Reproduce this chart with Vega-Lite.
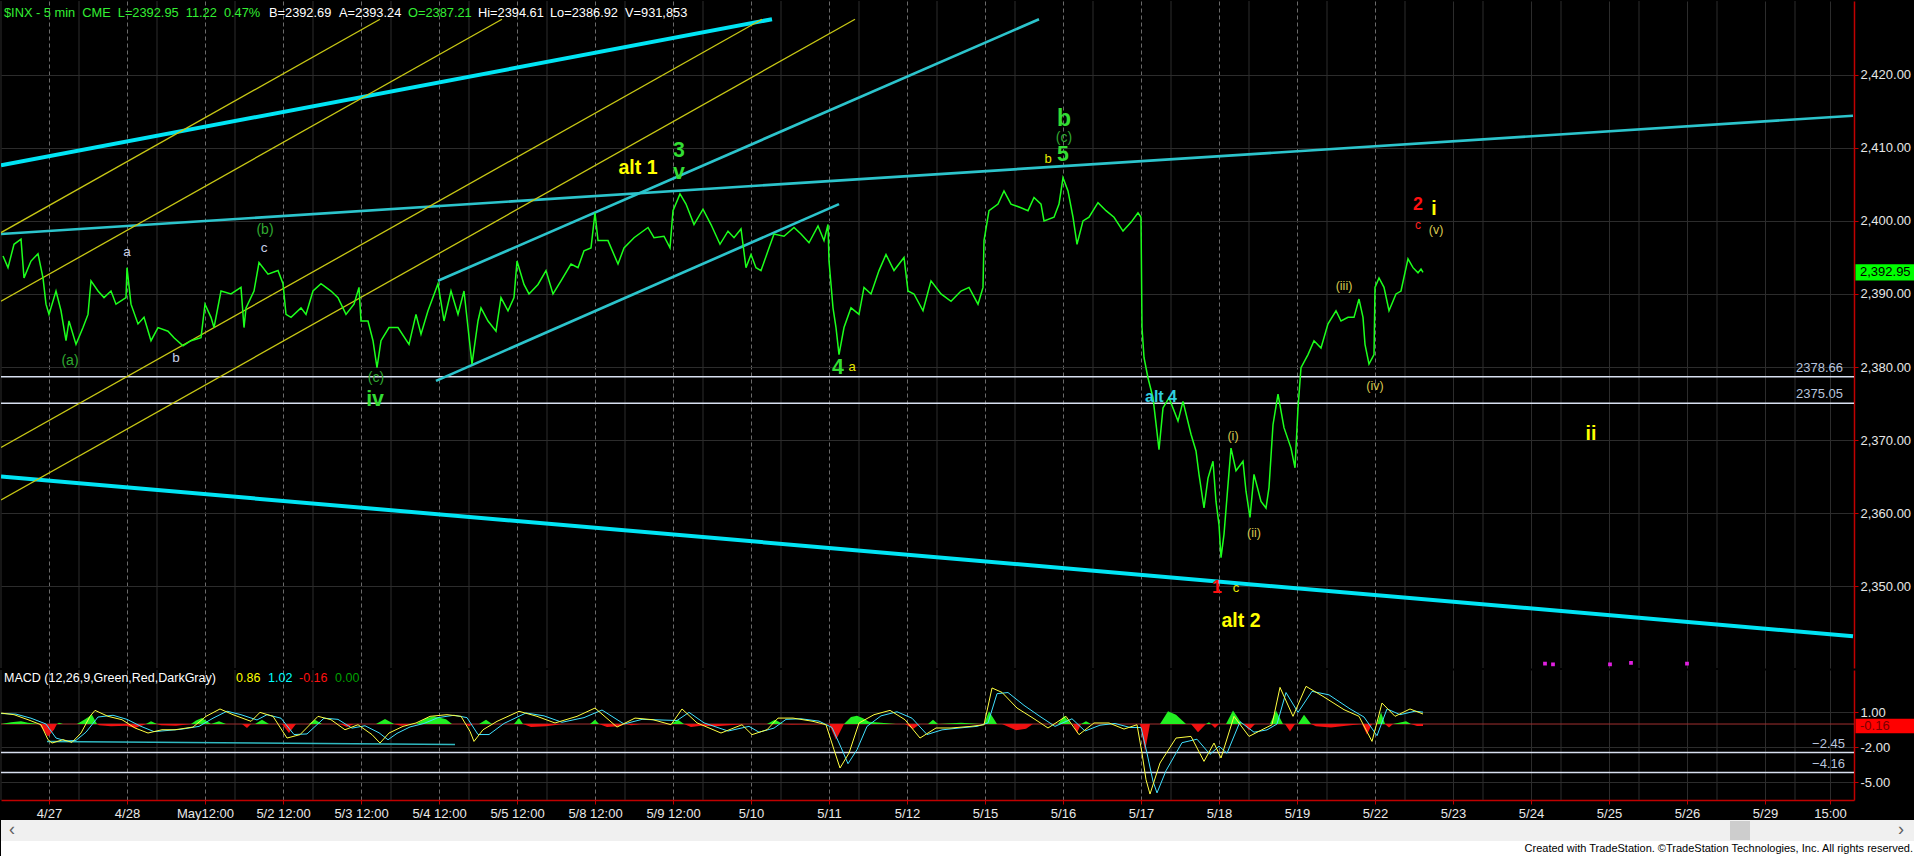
{
"$schema": "https://vega.github.io/schema/vega-lite/v6.json",
"background": "#000000",
"padding": 0,
"spacing": 0,
"config": {"view": {"stroke": null}, "font": "Liberation Sans, Arial, sans-serif", "axis": {"labelOverlap": false, "labelFlush": false}},
"datasets": {
"price": [{"bar":2,"close":2395.2},{"bar":7,"close":2393.6},{"bar":13,"close":2396.8},{"bar":20,"close":2397.5},{"bar":23,"close":2392.2},{"bar":30,"close":2394.5},{"bar":37,"close":2395.5},{"bar":42,"close":2392.2},{"bar":45,"close":2388.6},{"bar":48,"close":2387.2},{"bar":55,"close":2390.4},{"bar":60,"close":2387.7},{"bar":65,"close":2383.6},{"bar":68,"close":2386.3},{"bar":75,"close":2383.1},{"bar":82,"close":2385.4},{"bar":87,"close":2387.2},{"bar":90,"close":2391.8},{"bar":97,"close":2390.4},{"bar":103,"close":2389.5},{"bar":110,"close":2390.4},{"bar":115,"close":2388.6},{"bar":125,"close":2389.5},{"bar":126,"close":2393.6},{"bar":130,"close":2388.6},{"bar":137,"close":2385.9},{"bar":143,"close":2386.8},{"bar":150,"close":2383.6},{"bar":157,"close":2385.4},{"bar":167,"close":2384.9},{"bar":173,"close":2384.0},{"bar":182,"close":2382.9},{"bar":190,"close":2383.6},{"bar":200,"close":2384.0},{"bar":204,"close":2388.6},{"bar":210,"close":2386.8},{"bar":213,"close":2385.4},{"bar":220,"close":2390.4},{"bar":230,"close":2390.0},{"bar":240,"close":2390.9},{"bar":243,"close":2385.4},{"bar":245,"close":2388.1},{"bar":253,"close":2390.4},{"bar":258,"close":2394.3},{"bar":267,"close":2392.7},{"bar":277,"close":2393.2},{"bar":282,"close":2391.4},{"bar":285,"close":2387.2},{"bar":290,"close":2386.8},{"bar":300,"close":2388.1},{"bar":305,"close":2387.2},{"bar":312,"close":2390.4},{"bar":320,"close":2391.4},{"bar":330,"close":2390.4},{"bar":337,"close":2389.5},{"bar":345,"close":2387.2},{"bar":353,"close":2388.6},{"bar":358,"close":2390.9},{"bar":360,"close":2386.3},{"bar":367,"close":2386.3},{"bar":372,"close":2383.6},{"bar":376,"close":2379.9},{"bar":380,"close":2383.6},{"bar":388,"close":2385.4},{"bar":397,"close":2385.4},{"bar":408,"close":2383.1},{"bar":415,"close":2387.2},{"bar":420,"close":2384.5},{"bar":427,"close":2387.7},{"bar":437,"close":2391.4},{"bar":443,"close":2386.3},{"bar":450,"close":2390.4},{"bar":457,"close":2387.2},{"bar":463,"close":2390.4},{"bar":471,"close":2380.4},{"bar":477,"close":2386.3},{"bar":480,"close":2388.1},{"bar":487,"close":2386.3},{"bar":495,"close":2384.9},{"bar":500,"close":2389.5},{"bar":507,"close":2387.7},{"bar":513,"close":2389.5},{"bar":516,"close":2394.5},{"bar":523,"close":2391.3},{"bar":528,"close":2390.0},{"bar":537,"close":2391.3},{"bar":545,"close":2393.2},{"bar":552,"close":2390.0},{"bar":560,"close":2391.8},{"bar":570,"close":2394.1},{"bar":577,"close":2393.6},{"bar":583,"close":2395.9},{"bar":590,"close":2396.3},{"bar":594,"close":2401.1},{"bar":597,"close":2397.3},{"bar":607,"close":2397.3},{"bar":617,"close":2394.1},{"bar":623,"close":2396.3},{"bar":633,"close":2397.7},{"bar":647,"close":2399.1},{"bar":653,"close":2397.7},{"bar":663,"close":2397.9},{"bar":669,"close":2396.3},{"bar":672,"close":2401.4},{"bar":679,"close":2403.7},{"bar":685,"close":2402.3},{"bar":693,"close":2399.5},{"bar":702,"close":2401.6},{"bar":710,"close":2399.5},{"bar":719,"close":2396.8},{"bar":727,"close":2398.6},{"bar":733,"close":2397.7},{"bar":740,"close":2398.9},{"bar":745,"close":2393.6},{"bar":750,"close":2395.4},{"bar":755,"close":2393.6},{"bar":760,"close":2393.2},{"bar":767,"close":2395.9},{"bar":773,"close":2398.2},{"bar":783,"close":2397.9},{"bar":793,"close":2399.1},{"bar":800,"close":2398.2},{"bar":808,"close":2397.0},{"bar":817,"close":2399.3},{"bar":823,"close":2397.3},{"bar":827,"close":2399.5},{"bar":828,"close":2394.5},{"bar":832,"close":2388.1},{"bar":835,"close":2385.4},{"bar":838,"close":2381.7},{"bar":843,"close":2385.4},{"bar":850,"close":2388.1},{"bar":858,"close":2387.2},{"bar":863,"close":2390.9},{"bar":870,"close":2390.0},{"bar":878,"close":2393.2},{"bar":885,"close":2395.4},{"bar":893,"close":2393.2},{"bar":903,"close":2395.0},{"bar":907,"close":2390.4},{"bar":913,"close":2390.0},{"bar":922,"close":2387.7},{"bar":930,"close":2391.8},{"bar":940,"close":2390.0},{"bar":950,"close":2389.0},{"bar":960,"close":2390.4},{"bar":968,"close":2390.9},{"bar":977,"close":2388.6},{"bar":982,"close":2390.9},{"bar":983,"close":2397.3},{"bar":988,"close":2401.4},{"bar":997,"close":2402.3},{"bar":1003,"close":2404.1},{"bar":1010,"close":2402.3},{"bar":1020,"close":2401.8},{"bar":1027,"close":2401.4},{"bar":1033,"close":2403.2},{"bar":1040,"close":2402.3},{"bar":1043,"close":2400.0},{"bar":1053,"close":2400.5},{"bar":1058,"close":2402.3},{"bar":1062,"close":2405.9},{"bar":1067,"close":2404.1},{"bar":1072,"close":2400.5},{"bar":1076,"close":2396.8},{"bar":1082,"close":2400.0},{"bar":1088,"close":2400.5},{"bar":1097,"close":2402.5},{"bar":1105,"close":2401.4},{"bar":1113,"close":2400.5},{"bar":1122,"close":2398.6},{"bar":1130,"close":2399.8},{"bar":1137,"close":2401.1},{"bar":1140,"close":2400.5},{"bar":1141,"close":2385.4},{"bar":1143,"close":2381.3},{"bar":1147,"close":2378.5},{"bar":1152,"close":2375.8},{"bar":1158,"close":2368.7},{"bar":1162,"close":2374.4},{"bar":1168,"close":2375.8},{"bar":1177,"close":2372.6},{"bar":1182,"close":2375.3},{"bar":1190,"close":2370.8},{"bar":1195,"close":2368.5},{"bar":1198,"close":2365.3},{"bar":1203,"close":2360.7},{"bar":1207,"close":2364.8},{"bar":1212,"close":2367.1},{"bar":1215,"close":2361.6},{"bar":1218,"close":2358.4},{"bar":1220,"close":2353.9},{"bar":1223,"close":2357.1},{"bar":1227,"close":2363.9},{"bar":1230,"close":2368.9},{"bar":1235,"close":2365.8},{"bar":1242,"close":2367.1},{"bar":1245,"close":2363.0},{"bar":1249,"close":2359.4},{"bar":1253,"close":2365.3},{"bar":1260,"close":2361.6},{"bar":1265,"close":2360.7},{"bar":1268,"close":2363.5},{"bar":1272,"close":2372.1},{"bar":1277,"close":2376.3},{"bar":1283,"close":2371.7},{"bar":1290,"close":2368.9},{"bar":1294,"close":2366.2},{"bar":1297,"close":2374.4},{"bar":1300,"close":2379.9},{"bar":1307,"close":2381.7},{"bar":1313,"close":2383.6},{"bar":1320,"close":2382.6},{"bar":1327,"close":2385.9},{"bar":1335,"close":2387.7},{"bar":1340,"close":2386.3},{"bar":1347,"close":2386.8},{"bar":1353,"close":2386.8},{"bar":1358,"close":2389.3},{"bar":1362,"close":2386.8},{"bar":1364,"close":2383.1},{"bar":1368,"close":2380.4},{"bar":1373,"close":2381.7},{"bar":1374,"close":2390.9},{"bar":1378,"close":2392.2},{"bar":1383,"close":2390.9},{"bar":1388,"close":2387.7},{"bar":1395,"close":2390.0},{"bar":1400,"close":2390.4},{"bar":1407,"close":2394.8},{"bar":1412,"close":2393.6},{"bar":1417,"close":2392.9},{"bar":1420,"close":2393.4},{"bar":1422,"close":2392.95}],
"trend": [{"id":"T1","kind":"thick","bar":0,"price":2407.6},{"id":"T1","kind":"thick","bar":771,"price":2427.6},{"id":"T2","kind":"thick","bar":0,"price":2365.0},{"id":"T2","kind":"thick","bar":1852,"price":2343.15},{"id":"C1","kind":"thin","bar":0,"price":2398.2},{"id":"C1","kind":"thin","bar":1852,"price":2414.4},{"id":"C2","kind":"thin","bar":437,"price":2391.8},{"id":"C2","kind":"thin","bar":1038,"price":2427.6},{"id":"C3","kind":"thin","bar":435,"price":2378.1},{"id":"C3","kind":"thin","bar":838,"price":2402.3},{"id":"Y1","kind":"fib","bar":0,"price":2398.4},{"id":"Y1","kind":"fib","bar":379,"price":2427.6},{"id":"Y2","kind":"fib","bar":0,"price":2389.0},{"id":"Y2","kind":"fib","bar":501,"price":2427.6},{"id":"Y3","kind":"fib","bar":0,"price":2369.0},{"id":"Y3","kind":"fib","bar":761,"price":2427.6},{"id":"Y4","kind":"fib","bar":0,"price":2361.8},{"id":"Y4","kind":"fib","bar":854,"price":2427.6}],
"levels": [{"level":2378.66},{"level":2375.05}],
"minorgrid": [{"bar":0},{"bar":78},{"bar":156},{"bar":234},{"bar":312},{"bar":390},{"bar":468},{"bar":546},{"bar":624},{"bar":702},{"bar":780},{"bar":858},{"bar":936},{"bar":1014},{"bar":1092},{"bar":1170},{"bar":1248},{"bar":1326},{"bar":1404},{"bar":1482},{"bar":1560},{"bar":1638},{"bar":1716},{"bar":1794}],
"labels": [{"bar":1063,"price":2414.0,"text":"b","grp":"Gb"},{"bar":1062,"price":2409.0,"text":"5","grp":"Gm"},{"bar":678,"price":2409.5,"text":"3","grp":"Gm"},{"bar":678,"price":2406.6,"text":"v","grp":"Gm"},{"bar":837,"price":2379.8,"text":"4","grp":"Gm"},{"bar":374,"price":2375.5,"text":"iv","grp":"Gm"},{"bar":637,"price":2407.3,"text":"alt 1","grp":"Yb"},{"bar":1240,"price":2345.2,"text":"alt 2","grp":"Yb"},{"bar":1433,"price":2401.6,"text":"i","grp":"Yb"},{"bar":1590,"price":2370.8,"text":"ii","grp":"Yb"},{"bar":1216,"price":2349.7,"text":"1","grp":"Rb"},{"bar":1417,"price":2402.2,"text":"2","grp":"Rb"},{"bar":1160,"price":2375.9,"text":"alt 4","grp":"Cb"},{"bar":69,"price":2380.8,"text":"(a)","grp":"Gp"},{"bar":264,"price":2398.7,"text":"(b)","grp":"Gp"},{"bar":375,"price":2378.5,"text":"(c)","grp":"Gp"},{"bar":1063,"price":2411.4,"text":"(c)","grp":"Gp"},{"bar":126,"price":2395.7,"text":"a","grp":"W"},{"bar":175,"price":2381.3,"text":"b","grp":"W"},{"bar":263,"price":2396.3,"text":"c","grp":"W"},{"bar":851,"price":2380.0,"text":"a","grp":"Ys"},{"bar":1047,"price":2408.5,"text":"b","grp":"Ys"},{"bar":1235,"price":2349.7,"text":"c","grp":"Ys"},{"bar":1232,"price":2370.6,"text":"(i)","grp":"Yp"},{"bar":1253,"price":2357.3,"text":"(ii)","grp":"Yp"},{"bar":1343,"price":2391.1,"text":"(iii)","grp":"Yp"},{"bar":1374,"price":2377.4,"text":"(iv)","grp":"Yp"},{"bar":1435,"price":2398.8,"text":"(v)","grp":"Yp"},{"bar":1417,"price":2399.5,"text":"c","grp":"Rs"}],
"dots": [{"bar":1544,"price":2339.4},{"bar":1552,"price":2339.3},{"bar":1609,"price":2339.3},{"bar":1630,"price":2339.5},{"bar":1686,"price":2339.4}],
"macd": [{"bar":0,"macd":0.94},{"bar":13,"macd":0.8},{"bar":27,"macd":0.37},{"bar":40,"macd":-0.06},{"bar":47,"macd":-1.34},{"bar":51,"macd":-1.63},{"bar":62,"macd":-1.34},{"bar":71,"macd":-1.57},{"bar":80,"macd":-0.77},{"bar":89,"macd":0.66},{"bar":94,"macd":1.17},{"bar":107,"macd":0.66},{"bar":121,"macd":0.37},{"bar":134,"macd":-0.34},{"bar":147,"macd":-0.77},{"bar":161,"macd":-0.49},{"bar":174,"macd":-0.49},{"bar":192,"macd":-0.26},{"bar":205,"macd":0.66},{"bar":219,"macd":1.29},{"bar":232,"macd":0.8},{"bar":250,"macd":0.23},{"bar":259,"macd":1.0},{"bar":272,"macd":0.66},{"bar":286,"macd":-1.2},{"bar":299,"macd":-0.91},{"bar":317,"macd":0.66},{"bar":330,"macd":0.37},{"bar":344,"macd":-0.49},{"bar":357,"macd":-0.06},{"bar":371,"macd":-0.91},{"bar":379,"macd":-1.63},{"bar":388,"macd":-0.77},{"bar":402,"macd":-0.2},{"bar":415,"macd":0.09},{"bar":429,"macd":0.66},{"bar":446,"macd":0.8},{"bar":460,"macd":0.66},{"bar":469,"macd":-0.63},{"bar":473,"macd":-1.49},{"bar":482,"macd":-0.49},{"bar":496,"macd":0.23},{"bar":518,"macd":1.09},{"bar":536,"macd":0.66},{"bar":554,"macd":0.09},{"bar":576,"macd":0.66},{"bar":594,"macd":1.37},{"bar":616,"macd":-0.26},{"bar":634,"macd":0.51},{"bar":652,"macd":0.37},{"bar":670,"macd":-0.06},{"bar":681,"macd":1.29},{"bar":696,"macd":0.1},{"bar":720,"macd":-0.77},{"bar":741,"macd":-0.06},{"bar":751,"macd":-0.91},{"bar":766,"macd":-0.49},{"bar":777,"macd":0.51},{"bar":792,"macd":0.51},{"bar":812,"macd":0.23},{"bar":825,"macd":-0.06},{"bar":833,"macd":-2.2},{"bar":839,"macd":-3.77},{"bar":848,"macd":-2.49},{"bar":858,"macd":0.09},{"bar":873,"macd":0.8},{"bar":889,"macd":1.17},{"bar":904,"macd":0.37},{"bar":919,"macd":-1.2},{"bar":935,"macd":-0.34},{"bar":950,"macd":-0.34},{"bar":970,"macd":-0.2},{"bar":983,"macd":-0.06},{"bar":991,"macd":3.09},{"bar":1001,"macd":2.71},{"bar":1016,"macd":1.37},{"bar":1032,"macd":0.51},{"bar":1047,"macd":-0.34},{"bar":1065,"macd":0.66},{"bar":1078,"macd":-0.91},{"bar":1093,"macd":0.09},{"bar":1108,"macd":0.09},{"bar":1123,"macd":-0.43},{"bar":1136,"macd":-0.06},{"bar":1141,"macd":-2.49},{"bar":1145,"macd":-4.77},{"bar":1149,"macd":-6.0},{"bar":1159,"macd":-3.34},{"bar":1175,"macd":-1.2},{"bar":1190,"macd":-1.06},{"bar":1203,"macd":-3.2},{"bar":1213,"macd":-1.63},{"bar":1220,"macd":-2.91},{"bar":1233,"macd":0.66},{"bar":1248,"macd":-1.06},{"bar":1261,"macd":-0.49},{"bar":1271,"macd":-0.06},{"bar":1279,"macd":3.14},{"bar":1292,"macd":0.66},{"bar":1305,"macd":3.23},{"bar":1322,"macd":2.37},{"bar":1343,"macd":1.23},{"bar":1358,"macd":0.66},{"bar":1371,"macd":-1.49},{"bar":1381,"macd":1.8},{"bar":1394,"macd":0.66},{"bar":1409,"macd":1.29},{"bar":1422,"macd":0.86}],
"signal": [{"bar":0,"signal":0.9},{"bar":15,"signal":0.85},{"bar":30,"signal":0.5},{"bar":45,"signal":0.0},{"bar":55,"signal":-1.2},{"bar":65,"signal":-1.45},{"bar":75,"signal":-1.4},{"bar":85,"signal":-0.7},{"bar":97,"signal":0.6},{"bar":112,"signal":0.75},{"bar":126,"signal":0.4},{"bar":140,"signal":-0.2},{"bar":153,"signal":-0.65},{"bar":167,"signal":-0.55},{"bar":180,"signal":-0.45},{"bar":198,"signal":-0.2},{"bar":212,"signal":0.5},{"bar":226,"signal":1.1},{"bar":240,"signal":0.8},{"bar":256,"signal":0.35},{"bar":266,"signal":0.8},{"bar":280,"signal":0.5},{"bar":293,"signal":-0.9},{"bar":306,"signal":-0.85},{"bar":323,"signal":0.5},{"bar":337,"signal":0.4},{"bar":351,"signal":-0.35},{"bar":364,"signal":-0.15},{"bar":378,"signal":-0.75},{"bar":387,"signal":-1.35},{"bar":396,"signal":-0.8},{"bar":409,"signal":-0.25},{"bar":423,"signal":0.05},{"bar":437,"signal":0.55},{"bar":453,"signal":0.75},{"bar":466,"signal":0.55},{"bar":477,"signal":-0.9},{"bar":488,"signal":-0.9},{"bar":503,"signal":0.05},{"bar":525,"signal":0.95},{"bar":543,"signal":0.7},{"bar":561,"signal":0.15},{"bar":583,"signal":0.55},{"bar":601,"signal":1.2},{"bar":623,"signal":0.0},{"bar":641,"signal":0.4},{"bar":659,"signal":0.35},{"bar":676,"signal":0.3},{"bar":688,"signal":1.0},{"bar":703,"signal":0.1},{"bar":727,"signal":-0.6},{"bar":748,"signal":-0.2},{"bar":758,"signal":-0.7},{"bar":773,"signal":-0.35},{"bar":785,"signal":0.4},{"bar":800,"signal":0.45},{"bar":818,"signal":0.25},{"bar":831,"signal":-0.3},{"bar":840,"signal":-2.0},{"bar":847,"signal":-3.4},{"bar":856,"signal":-2.2},{"bar":866,"signal":-0.2},{"bar":880,"signal":0.7},{"bar":896,"signal":1.05},{"bar":911,"signal":0.5},{"bar":926,"signal":-0.9},{"bar":941,"signal":-0.5},{"bar":957,"signal":-0.35},{"bar":976,"signal":-0.2},{"bar":987,"signal":0.1},{"bar":996,"signal":2.6},{"bar":1007,"signal":2.7},{"bar":1023,"signal":1.6},{"bar":1039,"signal":0.65},{"bar":1054,"signal":-0.2},{"bar":1071,"signal":0.45},{"bar":1084,"signal":-0.6},{"bar":1099,"signal":-0.1},{"bar":1114,"signal":0.05},{"bar":1129,"signal":-0.3},{"bar":1140,"signal":-0.3},{"bar":1146,"signal":-2.5},{"bar":1152,"signal":-4.9},{"bar":1156,"signal":-5.9},{"bar":1165,"signal":-4.0},{"bar":1181,"signal":-1.6},{"bar":1196,"signal":-1.3},{"bar":1209,"signal":-2.6},{"bar":1218,"signal":-1.9},{"bar":1226,"signal":-2.5},{"bar":1239,"signal":0.2},{"bar":1253,"signal":-0.7},{"bar":1266,"signal":-0.5},{"bar":1276,"signal":0.0},{"bar":1285,"signal":2.7},{"bar":1297,"signal":1.0},{"bar":1311,"signal":2.8},{"bar":1328,"signal":2.5},{"bar":1349,"signal":1.3},{"bar":1363,"signal":0.6},{"bar":1376,"signal":-1.0},{"bar":1386,"signal":1.3},{"bar":1399,"signal":0.8},{"bar":1414,"signal":1.1},{"bar":1422,"signal":1.02}],
"hist": [{"bar":0,"hist":0},{"bar":10,"hist":0.15},{"bar":20,"hist":0.23},{"bar":27,"hist":0.1},{"bar":38,"hist":0},{"bar":42,"hist":-0.5},{"bar":47,"hist":-1.06},{"bar":53,"hist":-0.5},{"bar":56,"hist":0},{"bar":58,"hist":0.1},{"bar":62,"hist":0},{"bar":76,"hist":0},{"bar":84,"hist":0.4},{"bar":91,"hist":0.8},{"bar":96,"hist":0},{"bar":98,"hist":-0.1},{"bar":110,"hist":-0.2},{"bar":125,"hist":-0.15},{"bar":134,"hist":-0.34},{"bar":145,"hist":0},{"bar":150,"hist":0.23},{"bar":156,"hist":0},{"bar":160,"hist":-0.1},{"bar":175,"hist":-0.15},{"bar":190,"hist":0},{"bar":195,"hist":0.3},{"bar":201,"hist":0.51},{"bar":210,"hist":0},{"bar":218,"hist":0.23},{"bar":225,"hist":0},{"bar":241,"hist":0},{"bar":246,"hist":-0.34},{"bar":250,"hist":0},{"bar":254,"hist":0},{"bar":261,"hist":0.37},{"bar":268,"hist":0},{"bar":281,"hist":0},{"bar":288,"hist":-0.77},{"bar":295,"hist":0},{"bar":308,"hist":0},{"bar":314,"hist":0.37},{"bar":321,"hist":0},{"bar":339,"hist":0},{"bar":346,"hist":-0.26},{"bar":353,"hist":0},{"bar":375,"hist":0},{"bar":384,"hist":0.43},{"bar":393,"hist":0},{"bar":400,"hist":-0.15},{"bar":410,"hist":0},{"bar":415,"hist":0},{"bar":425,"hist":0.5},{"bar":433,"hist":0.66},{"bar":445,"hist":0.4},{"bar":451,"hist":0},{"bar":464,"hist":0},{"bar":468,"hist":-0.2},{"bar":472,"hist":0},{"bar":478,"hist":0},{"bar":485,"hist":0.37},{"bar":491,"hist":0},{"bar":513,"hist":0},{"bar":518,"hist":0.51},{"bar":522,"hist":0},{"bar":530,"hist":-0.26},{"bar":545,"hist":-0.2},{"bar":562,"hist":0},{"bar":589,"hist":0},{"bar":594,"hist":0.37},{"bar":598,"hist":0},{"bar":606,"hist":-0.26},{"bar":618,"hist":-0.2},{"bar":625,"hist":0},{"bar":630,"hist":-0.1},{"bar":640,"hist":0},{"bar":670,"hist":0},{"bar":677,"hist":0.37},{"bar":683,"hist":0},{"bar":690,"hist":-0.26},{"bar":700,"hist":-0.15},{"bar":715,"hist":-0.2},{"bar":745,"hist":0},{"bar":766,"hist":0},{"bar":774,"hist":0.37},{"bar":782,"hist":0},{"bar":790,"hist":-0.05},{"bar":828,"hist":0},{"bar":835,"hist":-1.34},{"bar":843,"hist":0},{"bar":850,"hist":0.6},{"bar":856,"hist":0.71},{"bar":862,"hist":0.5},{"bar":868,"hist":0.2},{"bar":880,"hist":0.1},{"bar":895,"hist":0},{"bar":904,"hist":0},{"bar":912,"hist":-0.43},{"bar":919,"hist":0},{"bar":927,"hist":0},{"bar":932,"hist":0.37},{"bar":937,"hist":0},{"bar":960,"hist":0.1},{"bar":980,"hist":0},{"bar":983,"hist":0},{"bar":988,"hist":1.09},{"bar":996,"hist":0},{"bar":1001,"hist":0},{"bar":1015,"hist":-0.54},{"bar":1025,"hist":-0.4},{"bar":1032,"hist":0},{"bar":1057,"hist":0},{"bar":1063,"hist":0.71},{"bar":1070,"hist":0},{"bar":1072,"hist":0},{"bar":1076,"hist":-0.77},{"bar":1080,"hist":0},{"bar":1085,"hist":0.23},{"bar":1090,"hist":0},{"bar":1139,"hist":0},{"bar":1144,"hist":-2.34},{"bar":1149,"hist":0},{"bar":1159,"hist":0},{"bar":1167,"hist":1.09},{"bar":1175,"hist":0.8},{"bar":1185,"hist":0},{"bar":1190,"hist":0},{"bar":1197,"hist":-0.71},{"bar":1205,"hist":0},{"bar":1208,"hist":0.15},{"bar":1210,"hist":0},{"bar":1214,"hist":-0.34},{"bar":1218,"hist":0},{"bar":1225,"hist":0},{"bar":1232,"hist":1.17},{"bar":1241,"hist":0},{"bar":1243,"hist":0},{"bar":1248,"hist":-0.54},{"bar":1254,"hist":0},{"bar":1269,"hist":0},{"bar":1275,"hist":1.17},{"bar":1282,"hist":0},{"bar":1284,"hist":0},{"bar":1289,"hist":-0.63},{"bar":1294,"hist":0},{"bar":1297,"hist":0},{"bar":1303,"hist":0.8},{"bar":1310,"hist":0},{"bar":1315,"hist":-0.2},{"bar":1330,"hist":-0.3},{"bar":1345,"hist":-0.15},{"bar":1361,"hist":0},{"bar":1366,"hist":-0.91},{"bar":1371,"hist":0},{"bar":1376,"hist":0},{"bar":1380,"hist":1.0},{"bar":1384,"hist":0},{"bar":1388,"hist":-0.3},{"bar":1392,"hist":0},{"bar":1405,"hist":0.23},{"bar":1410,"hist":0},{"bar":1416,"hist":-0.16},{"bar":1422,"hist":-0.16}],
"divline": [{"bar":46,"v":-1.5},{"bar":454,"v":-1.75}],
"macdlevels": [{"level":-2.45},{"level":-4.16}],
"header": [{"text":"$INX - 5 min\u00a0\u00a0CME\u00a0\u00a0L=2392.95\u00a0\u00a011.22\u00a0\u00a00.47%","pos":3,"tone":"g"},{"text":"B=2392.69","pos":268,"tone":"w"},{"text":"A=2393.24","pos":338,"tone":"w"},{"text":"O=2387.21","pos":407,"tone":"g"},{"text":"Hi=2394.61","pos":477,"tone":"w"},{"text":"Lo=2386.92","pos":549,"tone":"w"},{"text":"V=931,853","pos":624,"tone":"w"}],
"one": [{}]
},
"vconcat": [
{
"width": 1853, "height": 667,
"resolve": {"scale": {"color": "independent", "size": "independent", "strokeWidth": "independent"}},
"layer": [
{"data": {"name": "minorgrid"}, "mark": {"type": "rule", "color": "#2c2c2c", "strokeWidth": 1},
 "encoding": {"x": {"field": "bar", "type": "quantitative", "scale": {"domain": [0, 1853], "nice": false, "zero": false},
   "axis": {"values": [48,126,204,282,360,438,516,594,672,750,828,906,984,1062,1140,1218,1296,1374,1452,1530,1608,1686,1764,1829], "labels": false, "ticks": false, "domain": false, "title": null, "grid": true,
     "gridColor": {"condition": {"test": "datum.value<=1374", "value": "#6a6a6a"}, "value": "#2c2c2c"},
     "gridDash": {"condition": {"test": "datum.value<=1374", "value": [4,3]}, "value": []}}}}},
{"data": {"name": "levels"}, "mark": {"type": "rule", "color": "#d8e0f0", "strokeWidth": 1.5},
 "encoding": {"y": {"field": "level", "type": "quantitative", "scale": {"domain": [2338.8, 2430.1], "nice": false, "zero": false},
   "axis": {"orient": "right", "values": [2350,2360,2370,2380,2390,2400,2410,2420], "format": ",.2f", "labelColor": "#e6e6e6", "labelFontSize": 13, "labelPadding": 2, "tickColor": "#c00000", "tickSize": 4, "domainColor": "#c00000", "domainWidth": 1.5, "gridColor": "#2c2c2c", "title": null}}}},
{"data": {"name": "levels"}, "mark": {"type": "text", "color": "#b8c4dc", "fontSize": 13, "align": "right", "dy": -9},
 "encoding": {"x": {"datum": 1842, "type": "quantitative"}, "y": {"field": "level", "type": "quantitative"}, "text": {"field": "level", "type": "quantitative", "format": ".2f"}}},
{"data": {"name": "trend"}, "mark": {"type": "line", "clip": true},
 "encoding": {"x": {"field": "bar", "type": "quantitative"},
   "y": {"field": "price", "type": "quantitative"},
   "detail": {"field": "id"},
   "color": {"field": "kind", "type": "nominal", "scale": {"domain": ["thick","thin","fib"], "range": ["#00e4f4","#2cc4cc","#c8c814"]}, "legend": null},
   "strokeWidth": {"field": "kind", "type": "nominal", "scale": {"domain": ["thick","thin","fib"], "range": [4,1.3,1]}, "legend": null}}},
{"data": {"name": "price"}, "mark": {"type": "line", "color": "#1cff1c", "strokeWidth": 1.5},
 "encoding": {"x": {"field": "bar", "type": "quantitative"}, "y": {"field": "close", "type": "quantitative"}}},
{"data": {"name": "dots"}, "mark": {"type": "square", "color": "#e020e0", "filled": true, "size": 14, "opacity": 1},
 "encoding": {"x": {"field": "bar", "type": "quantitative"}, "y": {"field": "price", "type": "quantitative"}}},
{"data": {"name": "labels"}, "transform": [{"filter": {"field": "grp", "oneOf": ["Gb","Gm","Yb","Rb","Cb"]}}],
 "mark": {"type": "text", "fontWeight": "bold", "baseline": "middle", "align": "center"},
 "encoding": {"x": {"field": "bar", "type": "quantitative"}, "y": {"field": "price", "type": "quantitative"}, "text": {"field": "text"},
   "color": {"field": "grp", "type": "nominal", "scale": {"domain": ["Gb","Gm","Yb","Rb","Cb"], "range": ["#33dd33","#33dd33","#ffff00","#ff1010","#30d0e0"]}, "legend": null},
   "size": {"field": "grp", "type": "nominal", "scale": {"domain": ["Gb","Gm","Yb","Rb","Cb"], "range": [23,16,20,21,16]}, "legend": null}}},
{"data": {"name": "labels"}, "transform": [{"filter": {"field": "grp", "oneOf": ["Gp","W","Ys","Yp","Rs"]}}],
 "mark": {"type": "text", "baseline": "middle", "align": "center"},
 "encoding": {"x": {"field": "bar", "type": "quantitative"}, "y": {"field": "price", "type": "quantitative"}, "text": {"field": "text"},
   "color": {"field": "grp", "type": "nominal", "scale": {"domain": ["Gp","W","Ys","Yp","Rs"], "range": ["#30a830","#c8d0e8","#e8e800","#d8c850","#ff2020"]}, "legend": null},
   "size": {"field": "grp", "type": "nominal", "scale": {"domain": ["Gp","W","Ys","Yp","Rs"], "range": [14,12,12,13,12]}, "legend": null}}},
{"data": {"name": "one"}, "mark": {"type": "rect", "color": "#00ff00"},
 "encoding": {"x": {"datum": 1854.5, "type": "quantitative"}, "x2": {"datum": 1914}, "y": {"datum": 2391.85, "type": "quantitative"}, "y2": {"datum": 2394.05}}},
{"data": {"name": "one"}, "mark": {"type": "text", "color": "#000000", "fontSize": 13, "align": "left", "baseline": "middle"},
 "encoding": {"x": {"datum": 1859, "type": "quantitative"}, "y": {"datum": 2392.95, "type": "quantitative"}, "text": {"value": "2,392.95"}}},
{"data": {"name": "header"}, "mark": {"type": "text", "fontSize": 12.8, "align": "left", "baseline": "middle"},
 "encoding": {"x": {"field": "pos", "type": "quantitative"}, "y": {"datum": 2428.5, "type": "quantitative"}, "text": {"field": "text"},
   "color": {"field": "tone", "type": "nominal", "scale": {"domain": ["g","w"], "range": ["#33ee33","#ffffff"]}, "legend": null}}}
]
},
{
"width": 1853, "height": 130,
"layer": [
{"data": {"name": "minorgrid"}, "mark": {"type": "rule", "color": "#2c2c2c", "strokeWidth": 1},
 "encoding": {"x": {"field": "bar", "type": "quantitative", "scale": {"domain": [0, 1853], "nice": false, "zero": false},
   "axis": {"values": [48,126,204,282,360,438,516,594,672,750,828,906,984,1062,1140,1218,1296,1374,1452,1530,1608,1686,1764,1829],
     "labelExpr": "datum.value==1829 ? '15:00' : ['4/27','4/28','May12:00','5/2 12:00','5/3 12:00','5/4 12:00','5/5 12:00','5/8 12:00','5/9 12:00','5/10','5/11','5/12','5/15','5/16','5/17','5/18','5/19','5/22','5/23','5/24','5/25','5/26','5/29'][round((datum.value-48)/78)]",
     "labelColor": "#e8e8e8", "labelFontSize": 13, "labelPadding": 3, "tickColor": "#c00000", "tickSize": 4, "domainColor": "#c00000", "domainWidth": 1.5, "title": null, "grid": true,
     "gridColor": {"condition": {"test": "datum.value<=1374", "value": "#6a6a6a"}, "value": "#2c2c2c"},
     "gridDash": {"condition": {"test": "datum.value<=1374", "value": [4,3]}, "value": []}}}}},
{"data": {"name": "macdlevels"}, "mark": {"type": "rule", "color": "#d8e0f0", "strokeWidth": 1.5},
 "encoding": {"y": {"field": "level", "type": "quantitative", "scale": {"domain": [-6.51, 4.63], "nice": false, "zero": false},
   "axis": {"orient": "right", "values": [1,-2,-5], "labelExpr": "datum.value==1 ? '1.00' : (datum.value==-2 ? '-2.00' : '-5.00')", "labelColor": "#e6e6e6", "labelFontSize": 13, "labelPadding": 2, "tickColor": "#c00000", "tickSize": 4, "domainColor": "#c00000", "domainWidth": 1.5, "title": null, "grid": true, "gridColor": "#2c2c2c"}}}},
{"data": {"name": "macdlevels"}, "mark": {"type": "text", "color": "#b8c4dc", "fontSize": 13, "align": "right", "dy": -9},
 "encoding": {"x": {"datum": 1844, "type": "quantitative"}, "y": {"field": "level", "type": "quantitative"}, "text": {"field": "level", "type": "quantitative", "format": ".2f"}}},
{"data": {"name": "one"}, "mark": {"type": "rule", "color": "#a03030", "strokeWidth": 1},
 "encoding": {"y": {"datum": 0, "type": "quantitative"}}},
{"data": {"name": "hist"}, "transform": [{"calculate": "max(datum.hist, 0)", "as": "pos"}],
 "mark": {"type": "area", "color": "#22ee22", "clip": true},
 "encoding": {"x": {"field": "bar", "type": "quantitative"}, "y": {"field": "pos", "type": "quantitative"}, "y2": {"datum": 0}}},
{"data": {"name": "hist"}, "transform": [{"calculate": "min(datum.hist, 0)", "as": "neg"}],
 "mark": {"type": "area", "color": "#ee1111", "clip": true},
 "encoding": {"x": {"field": "bar", "type": "quantitative"}, "y": {"field": "neg", "type": "quantitative"}, "y2": {"datum": 0}}},
{"data": {"name": "divline"}, "mark": {"type": "line", "color": "#30b8c0", "strokeWidth": 1.5},
 "encoding": {"x": {"field": "bar", "type": "quantitative"}, "y": {"field": "v", "type": "quantitative"}}},
{"data": {"name": "signal"}, "mark": {"type": "line", "color": "#40e0ff", "strokeWidth": 1, "clip": true},
 "encoding": {"x": {"field": "bar", "type": "quantitative"}, "y": {"field": "signal", "type": "quantitative"}}},
{"data": {"name": "macd"}, "mark": {"type": "line", "color": "#ffff40", "strokeWidth": 1, "clip": true},
 "encoding": {"x": {"field": "bar", "type": "quantitative"}, "y": {"field": "macd", "type": "quantitative"}}},
{"data": {"name": "one"}, "mark": {"type": "rect", "color": "#ff0000"},
 "encoding": {"x": {"datum": 1854.5, "type": "quantitative"}, "x2": {"datum": 1914}, "y": {"datum": -0.8, "type": "quantitative"}, "y2": {"datum": 0.45}}},
{"data": {"name": "one"}, "mark": {"type": "text", "color": "#7a0000", "fontSize": 13, "align": "left", "baseline": "middle"},
 "encoding": {"x": {"datum": 1859, "type": "quantitative"}, "y": {"datum": -0.18, "type": "quantitative"}, "text": {"value": "-0.16"}}},
{"data": {"name": "one"}, "mark": {"type": "text", "color": "#ffffff", "fontSize": 12.5, "align": "left", "baseline": "middle"},
 "encoding": {"x": {"datum": 3, "type": "quantitative"}, "y": {"datum": 3.94, "type": "quantitative"}, "text": {"value": "MACD (12,26,9,Green,Red,DarkGray)"}}},
{"data": {"name": "one"}, "mark": {"type": "text", "color": "#ffff00", "fontSize": 12.5, "align": "left", "baseline": "middle"},
 "encoding": {"x": {"datum": 235, "type": "quantitative"}, "y": {"datum": 3.94, "type": "quantitative"}, "text": {"value": "0.86"}}},
{"data": {"name": "one"}, "mark": {"type": "text", "color": "#00ffff", "fontSize": 12.5, "align": "left", "baseline": "middle"},
 "encoding": {"x": {"datum": 267, "type": "quantitative"}, "y": {"datum": 3.94, "type": "quantitative"}, "text": {"value": "1.02"}}},
{"data": {"name": "one"}, "mark": {"type": "text", "color": "#ff1010", "fontSize": 12.5, "align": "left", "baseline": "middle"},
 "encoding": {"x": {"datum": 298, "type": "quantitative"}, "y": {"datum": 3.94, "type": "quantitative"}, "text": {"value": "-0.16"}}},
{"data": {"name": "one"}, "mark": {"type": "text", "color": "#00a000", "fontSize": 12.5, "align": "left", "baseline": "middle"},
 "encoding": {"x": {"datum": 334, "type": "quantitative"}, "y": {"datum": 3.94, "type": "quantitative"}, "text": {"value": "0.00"}}}
]
},
{
"width": 1914, "height": 36,
"layer": [
{"data": {"name": "one"}, "mark": {"type": "rect", "color": "#ffffff"},
 "encoding": {"x": {"datum": 0, "type": "quantitative", "scale": {"domain": [0, 1914], "nice": false, "zero": false}, "axis": null}, "x2": {"datum": 1914}, "y": {"datum": 0, "type": "quantitative", "scale": {"domain": [0, 36], "nice": false, "zero": false}, "axis": null}, "y2": {"datum": 36}}},
{"data": {"name": "one"}, "mark": {"type": "rect", "color": "#f0f0f0"},
 "encoding": {"x": {"datum": 0, "type": "quantitative"}, "x2": {"datum": 1914}, "y": {"datum": 15, "type": "quantitative"}, "y2": {"datum": 36}}},
{"data": {"name": "one"}, "mark": {"type": "rect", "color": "#cdcdcd"},
 "encoding": {"x": {"datum": 1729, "type": "quantitative"}, "x2": {"datum": 1749}, "y": {"datum": 16, "type": "quantitative"}, "y2": {"datum": 35}}},
{"data": {"name": "one"}, "mark": {"type": "text", "color": "#606060", "fontSize": 18, "align": "center", "baseline": "middle"},
 "encoding": {"x": {"datum": 11, "type": "quantitative"}, "y": {"datum": 26, "type": "quantitative"}, "text": {"value": "\u2039"}}},
{"data": {"name": "one"}, "mark": {"type": "text", "color": "#606060", "fontSize": 18, "align": "center", "baseline": "middle"},
 "encoding": {"x": {"datum": 1900, "type": "quantitative"}, "y": {"datum": 26, "type": "quantitative"}, "text": {"value": "\u203a"}}},
{"data": {"name": "one"}, "mark": {"type": "text", "color": "#000000", "fontSize": 11, "align": "right", "baseline": "middle"},
 "encoding": {"x": {"datum": 1912, "type": "quantitative"}, "y": {"datum": 7, "type": "quantitative"}, "text": {"value": "Created with TradeStation. \u00a9TradeStation Technologies, Inc. All rights reserved."}}}
]
}
]
}
